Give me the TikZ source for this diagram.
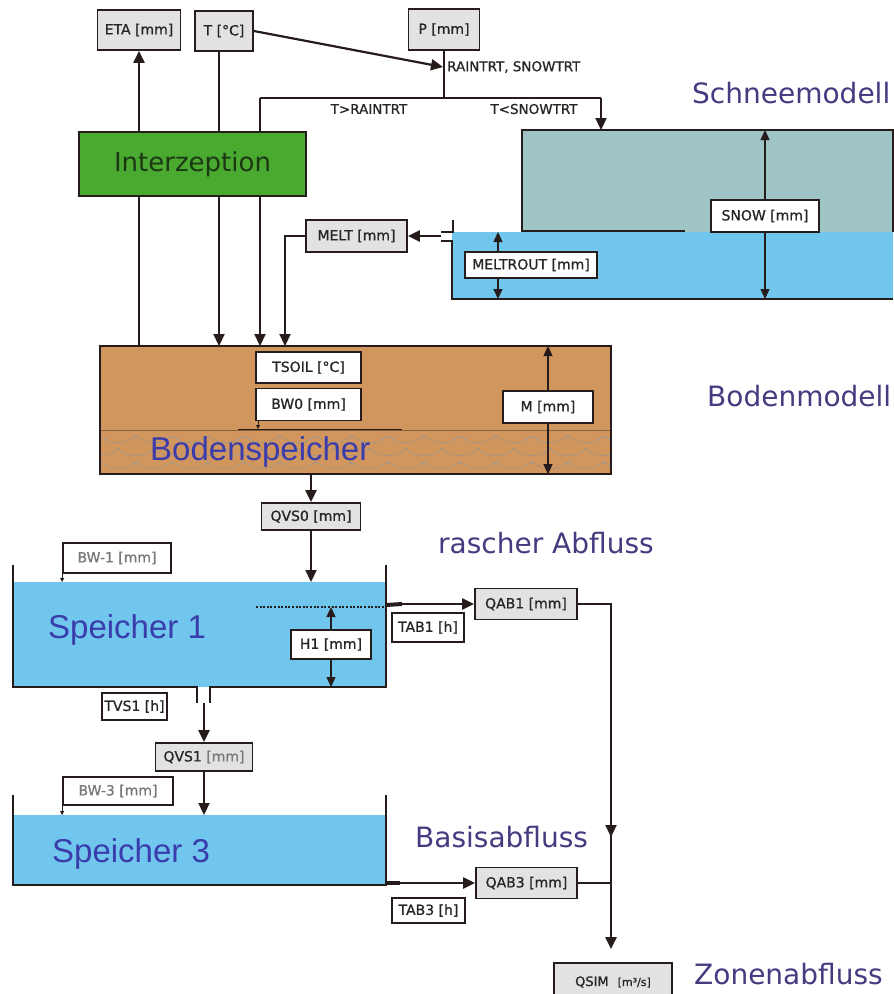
\documentclass[tikz,border=0pt]{standalone}
\usepackage{fontspec}
\setmainfont{DejaVu Sans}
\newfontfamily\arialf{Liberation Sans}
\newfontfamily\labf[FakeBold=0.9]{DejaVu Sans}
\usetikzlibrary{arrows.meta}
\definecolor{boxgray}{RGB}{226,226,226}
\definecolor{edge}{RGB}{38,28,28}
\definecolor{water}{RGB}{112,198,236}
\definecolor{snowc}{RGB}{158,196,198}
\definecolor{soil}{RGB}{209,150,94}
\definecolor{wave}{RGB}{135,150,158}
\definecolor{greenb}{RGB}{74,170,48}
\definecolor{greent}{RGB}{28,55,20}
\definecolor{purp}{RGB}{72,58,128}
\definecolor{blu}{RGB}{58,60,172}
\definecolor{lgray}{RGB}{120,120,120}
\tikzset{
  lab/.style={font=\labf\fontsize{14}{16}\selectfont, text=black!85, inner sep=0pt},
  gbox/.style={draw=edge, line width=1.8pt, fill=boxgray, lab},
  wbox/.style={draw=edge, line width=1.8pt, fill=white, lab},
  conn/.style={draw=edge, line width=2.2pt},
  arr/.style={conn, -{Triangle[length=12pt,width=11pt]}},
  thinarr/.style={draw=edge, line width=1.3pt, -{Triangle[length=10pt,width=9pt]}},
  tinyarr/.style={draw=edge, line width=0.8pt, -{Triangle[length=4pt,width=4pt]}},
  big/.style={font=\fontsize{28}{30}\selectfont, text=purp, inner sep=0pt, anchor=base west},
  tank/.style={font=\arialf\fontsize{33}{35}\selectfont, text=blu, inner sep=0pt, anchor=base west},
}
\begin{document}
\begin{tikzpicture}[x=1pt,y=-1pt]
\useasboundingbox (0,0) rectangle (894,994);
\fill[white] (0,0) rectangle (894,994);

% ---------- snow model ----------
\fill[snowc] (522,130) rectangle (893,232);
\fill[water] (452,232) rectangle (893,299);
\draw[edge, line width=1.6pt] (522,232) -- (522,130) -- (893,130) -- (893,232);
\draw[edge, line width=1.2pt] (522,231) -- (685,231);
\draw[conn] (453,220) -- (453,232) -- (441,232);
\draw[conn] (441,241) -- (452,241) -- (452,299) -- (893,299);

\node[wbox, minimum width=108pt, minimum height=32pt] (snow) at (765,216) {SNOW [mm]};
\coordinate (snowtop) at (765,130);
\coordinate (snowbot) at (765,299);
\draw[thinarr] (snow.north) -- (snowtop);
\draw[thinarr] (snow.south) -- (snowbot);

\node[wbox, minimum width=132pt, minimum height=26pt] (meltrout) at (531,265) {MELTROUT [mm]};
\coordinate (mrtop) at (498,232);
\coordinate (mrbot) at (498,299);
\draw[thinarr] (meltrout.north -| mrtop) -- (mrtop);
\draw[thinarr] (meltrout.south -| mrbot) -- (mrbot);

\node[big] (schnee) at (692,103) {Schneemodell};

% ---------- top inputs ----------
\node[gbox, minimum width=83pt, minimum height=40pt] (eta) at (139,30) {ETA [mm]};
\node[gbox, minimum width=58pt, minimum height=40pt] (t) at (224,31) {T [°C]};
\node[gbox, minimum width=71pt, minimum height=41pt] (p) at (444,29.5) {P [mm]};

\node[draw=edge, line width=1.8pt, fill=greenb, minimum width=227pt, minimum height=64pt,
      font=\fontsize{26}{28}\selectfont, text=greent] (intz) at (192.5,164) {Interzeption};

\coordinate (etax) at (139,0);
\coordinate (tx) at (219,0);
\coordinate (meltx) at (285,0);
\coordinate (junc) at (443,67);
\coordinate (split) at (444,98);
\coordinate (rainL) at (260,98);
\coordinate (snowR) at (601,98);
\coordinate (snowin) at (601,130);

\draw[arr] (t.east) -- (junc);
\draw[conn] (p.south) -- (split);
\draw[conn] (rainL) -- (snowR);
\draw[arr] (snowR) -- (snowin);
\node[lab, anchor=west, font=\labf\fontsize{13.5}{15}\selectfont] (lrs) at (447,67) {RAINTRT, SNOWTRT};
\node[lab, font=\labf\fontsize{13.5}{15}\selectfont] (lgt) at (369,109) {T>RAINTRT};
\node[lab, font=\labf\fontsize{13.5}{15}\selectfont] (llt) at (534,109) {T<SNOWTRT};

% ---------- soil ----------
\node[draw=edge, line width=1.2pt, fill=soil, minimum width=510pt, minimum height=127pt,
      anchor=north west, inner sep=0pt] (soil) at (100,346) {};
\begin{scope}
\clip (100,430) rectangle (610,473);
\foreach \yy/\off in {436/0, 449/18, 462/0, 475/18} {
  \foreach \xx in {64,100,...,640} {
    \draw[wave, line width=0.6pt, dash pattern=on 3pt off 1.5pt]
      (\xx+\off,\yy) .. controls (\xx+\off+10,\yy+9) and (\xx+\off+26,\yy+9) .. (\xx+\off+36,\yy);
  }
}
\end{scope}
\draw[edge!45!soil, line width=0.8pt] (100,430) -- (610,430);
\draw[edge, line width=1.2pt] (soil.north west) rectangle (soil.south east);

\draw[arr] (intz.north -| etax) -- (eta.south -| etax);
\draw[conn] (t.south -| tx) -- (intz.north -| tx);
\draw[conn] (rainL) -- (intz.north -| rainL);
\draw[conn] (intz.south -| etax) -- (soil.north -| etax);
\draw[arr] (intz.south -| tx) -- (soil.north -| tx);
\draw[arr] (intz.south -| rainL) -- (soil.north -| rainL);

\node[gbox, minimum width=101pt, minimum height=32pt] (melt) at (356.5,236) {MELT [mm]};
\coordinate (outlet) at (441,236);
\draw[arr] (outlet) -- (melt.east);
\draw[arr] (melt.west) -| (soil.north -| meltx);

\node[wbox, minimum width=105pt, minimum height=31pt] (tsoil) at (308.5,367.5) {TSOIL [°C]};
\node[wbox, minimum width=105pt, minimum height=32pt] (bw0) at (308.5,404.5) {BW0 [mm]};
\coordinate (bwl) at (258,429);
\draw[edge, line width=1pt] (238,429) -- (402,429);
\draw[tinyarr] (bw0.south -| bwl) -- (bwl);

\node[wbox, minimum width=90pt, minimum height=32pt] (m) at (548,407) {M [mm]};
\draw[thinarr] (m.north) -- (soil.north -| m.north);
\draw[thinarr] (m.south) -- (soil.south -| m.south);

\node[tank] (bsp) at (150,460) {Bodenspeicher};
\node[big] (boden) at (707,406) {Bodenmodell};

% ---------- Speicher 1 ----------
\node[gbox, minimum width=99pt, minimum height=27pt] (qvs0) at (311,516.5) {QVS0 [mm]};
\draw[arr] (soil.south -| qvs0.north) -- (qvs0.north);

\node[big] (rasch) at (438,553) {rascher Abfluss};

\fill[water] (13,582) rectangle (386,687);
\coordinate (s1water) at (311,582);
\draw[arr] (qvs0.south) -- (s1water);
\draw[conn] (13,565) -- (13,687) -- (197,687) -- (197,703);
\draw[conn] (210,703) -- (210,687) -- (386,687) -- (386,565);
\draw[edge, line width=2.4pt, dash pattern=on 2pt off 1.6pt] (256,607) -- (386,607);

\node[wbox, minimum width=108pt, minimum height=30pt, text=lgray] (bw1) at (117,558) {BW-1 [mm]};
\draw[tinyarr] (bw1.south west) -- (bw1.south west |- s1water);

\node[tank] (sp1) at (48,638) {Speicher 1};

\node[wbox, minimum width=80pt, minimum height=29pt] (h1) at (331,644.5) {H1 [mm]};
\coordinate (h1top) at (331,607);
\coordinate (h1bot) at (331,687);
\draw[thinarr] (h1.north) -- (h1top);
\draw[thinarr] (h1.south) -- (h1bot);

\node[gbox, minimum width=102pt, minimum height=31pt] (qab1) at (526,604) {QAB1 [mm]};
\node[wbox, minimum width=72pt, minimum height=29pt] (tab1) at (428,627.5) {TAB1 [h]};
\coordinate (o1) at (402,604);
\draw[edge, line width=4pt] (386,605) -- (o1);
\draw[arr] (o1) -- (qab1.west);

\coordinate (qmid) at (611,837);
\coordinate (qjoin) at (611,883);
\draw[arr] (qab1.east) -| (qmid);
\draw[conn] (611,828) -- (qjoin);

\node[wbox, minimum width=65pt, minimum height=27pt] (tvs1) at (134.5,706.5) {TVS1 [h]};
\node[gbox, minimum width=97pt, minimum height=28pt] (qvs1) at (204,757) {QVS1 \textcolor{lgray}{[mm]}};
\coordinate (o2) at (204,703);
\draw[arr] (o2) -- (qvs1.north);

% ---------- Speicher 3 ----------
\fill[water] (13,815) rectangle (386,885);
\coordinate (s3water) at (204,815);
\draw[arr] (qvs1.south) -- (s3water);
\draw[conn] (13,795) -- (13,885) -- (386,885) -- (386,795);

\node[wbox, minimum width=110pt, minimum height=28pt, text=lgray] (bw3) at (118,791) {BW-3 [mm]};
\draw[tinyarr] (bw3.south west) -- (bw3.south west |- s3water);

\node[tank] (sp3) at (52,862) {Speicher 3};
\node[big] (basis) at (415,847) {Basisabfluss};

\node[gbox, minimum width=101pt, minimum height=31pt] (qab3) at (526.5,883) {QAB3 [mm]};
\node[wbox, minimum width=73pt, minimum height=25pt] (tab3) at (428.5,910.5) {TAB3 [h]};
\coordinate (o3) at (400,883);
\draw[edge, line width=4pt] (386,883) -- (o3);
\draw[arr] (o3) -- (qab3.west);
\draw[conn] (qab3.east) -- (qjoin);

\node[gbox, minimum width=118pt, minimum height=38pt] (qsim) at (613,982)
  {{\fontsize{13}{15}\selectfont QSIM}\hspace{9pt}{\fontsize{11}{13}\selectfont [m³/s]}};
\draw[arr, shorten >=13pt] (qjoin) -- (qjoin |- qsim.north);
\node[big] (zone) at (694,984) {Zonenabfluss};
\end{tikzpicture}
\end{document}
